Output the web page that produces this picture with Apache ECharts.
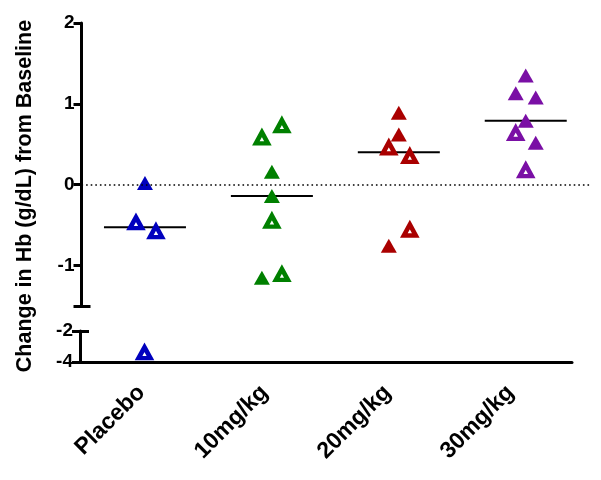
<!DOCTYPE html>
<html>
<head>
<meta charset="utf-8">
<script src="https://cdn.jsdelivr.net/npm/echarts@6/dist/echarts.min.js"></script>
<style>
html,body{margin:0;padding:0;background:#fff;}
#chart{width:601px;height:480px;}
</style>
</head>
<body>
<div id="chart"></div>
<script>
// ---- data ----
const categories = ['Placebo', '10mg/kg', '20mg/kg', '30mg/kg'];
const yAxisTitle = 'Change in Hb (g/dL) from Baseline';
const upperTicks = [2, 1, 0, -1];
const lowerTicks = [-2, -4];

// filled (closed) triangles
const placeboFilled = [0.02];
const mg10Filled = [0.16, -0.14, -1.15];
const mg20Filled = [0.89, 0.62, -0.755];
const mg30Filled = [1.35, 1.13, 1.08, 0.79, 0.52];
// open triangles
const placeboOpen = [-0.47, -0.58, -3.4];
const mg10Open = [0.58, 0.73, -0.45, -1.11];
const mg20Open = [0.455, 0.35, -0.56];
const mg30Open = [0.635, 0.175];

// ---- styling (horizontal scatter of points, px) ----
const placeboFilledJit = [0];
const mg10FilledJit = [0, 0, -10];
const mg20FilledJit = [0, 0, -10];
const mg30FilledJit = [0, -10, 10, 0, 10];
const placeboOpenJit = [-9, 11, 3];
const mg10OpenJit = [-10, 10, 0, 10];
const mg20OpenJit = [-10, 11, 11];
const mg30OpenJit = [-10, 0];

const colors = ['#0000BE', '#008000', '#AA0000', '#7A0FA5'];
const groups = [
  {filled: placeboFilled, fj: placeboFilledJit, open: placeboOpen, oj: placeboOpenJit},
  {filled: mg10Filled, fj: mg10FilledJit, open: mg10Open, oj: mg10OpenJit},
  {filled: mg20Filled, fj: mg20FilledJit, open: mg20Open, oj: mg20OpenJit},
  {filled: mg30Filled, fj: mg30FilledJit, open: mg30Open, oj: mg30OpenJit}
];

const BREAK = -1.75;
function median(a) {
  const s = a.slice().sort((x, y) => x - y);
  const n = s.length;
  return n % 2 ? s[(n - 1) / 2] : (s[n / 2 - 1] + s[n / 2]) / 2;
}

const series = [];
// medians
series.push({
  type: 'scatter', xAxisIndex: 0, yAxisIndex: 0, symbol: 'rect', symbolSize: [82, 2],
  itemStyle: {color: '#000', opacity: 1}, z: 1, silent: true,
  data: groups.map((g, i) => [categories[i], median(g.filled.concat(g.open))]),
  markLine: {
    silent: true, symbol: 'none', label: {show: false},
    lineStyle: {color: '#000', width: 1.6, type: [1.6, 3], opacity: 1},
    data: [{yAxis: 0}]
  }
});

groups.forEach((g, i) => {
  ['filled', 'open'].forEach(kind => {
    const vals = g[kind];
    const jit = kind === 'filled' ? g.fj : g.oj;
    const up = [], low = [];
    vals.forEach((v, k) => {
      const item = {value: [categories[i], v], symbolOffset: [jit[k], 0]};
      (v < BREAK ? low : up).push(item);
    });
    const style = kind === 'filled'
      ? {symbolSize: [16, 14], itemStyle: {color: colors[i], opacity: 1}}
      : {symbolSize: [12, 11], itemStyle: {color: '#fff', borderColor: colors[i], borderWidth: 4.5, opacity: 1}};
    [[up, 0, 0], [low, 1, 2]].forEach(([d, xi, yi]) => {
      if (!d.length) return;
      series.push(Object.assign({
        type: 'scatter', xAxisIndex: xi, yAxisIndex: yi, symbol: 'triangle',
        z: 3, silent: true, data: d
      }, JSON.parse(JSON.stringify(style))));
    });
  });
});

const axisLineStyle = {color: '#000', width: 3};
const labelFont = {color: '#000', fontFamily: 'Liberation Sans', fontWeight: 'bold', fontSize: 19};

const option = {
  animation: false,
  backgroundColor: '#fff',
  grid: [
    {left: 81.5, width: 507.7, top: 23, height: 283},
    {left: 80, width: 492, top: 331, height: 31}
  ],
  xAxis: [
    {type: 'category', gridIndex: 0, data: categories, show: false},
    {type: 'category', gridIndex: 1, data: categories,
      axisLine: {lineStyle: axisLineStyle},
      axisTick: {alignWithLabel: true, length: 10, lineStyle: axisLineStyle},
      axisLabel: {rotate: 45, margin: 27, color: '#000', fontFamily: 'Liberation Sans',
        fontWeight: 'bold', fontSize: 23},
      splitLine: {show: false}}
  ],
  yAxis: [
    {type: 'value', gridIndex: 0, position: 'left', min: -1.5, max: 2,
      axisLine: {show: true, lineStyle: axisLineStyle},
      axisTick: {show: true, length: 8, lineStyle: axisLineStyle, customValues: upperTicks.concat([-1.5])},
      axisLabel: Object.assign({margin: 7, customValues: upperTicks}, labelFont),
      splitLine: {show: false}},
    {type: 'value', gridIndex: 0, position: 'left', min: -1.5, max: 2,
      axisLine: {show: false},
      axisTick: {show: true, inside: true, length: 9, lineStyle: axisLineStyle, customValues: [-1.5]},
      axisLabel: {show: false}, splitLine: {show: false}},
    {type: 'value', gridIndex: 1, position: 'left', min: -4, max: -2,
      axisLine: {show: true, lineStyle: axisLineStyle},
      axisTick: {show: true, length: 8, lineStyle: axisLineStyle, customValues: lowerTicks},
      axisLabel: Object.assign({margin: 7, customValues: lowerTicks}, labelFont),
      splitLine: {show: false}},
    {type: 'value', gridIndex: 1, position: 'left', min: -4, max: -2,
      axisLine: {show: false},
      axisTick: {show: true, inside: true, length: 9, lineStyle: axisLineStyle, customValues: [-2]},
      axisLabel: {show: false}, splitLine: {show: false}}
  ],
  graphic: [{
    type: 'text', x: 25, y: 196, rotation: Math.PI / 2,
    style: {text: yAxisTitle, fill: '#000', align: 'center', verticalAlign: 'middle',
      font: 'bold 21.5px "Liberation Sans"'}
  }],
  series: series
};

const chart = echarts.init(document.getElementById('chart'));
chart.setOption(option);
</script>
</body>
</html>
